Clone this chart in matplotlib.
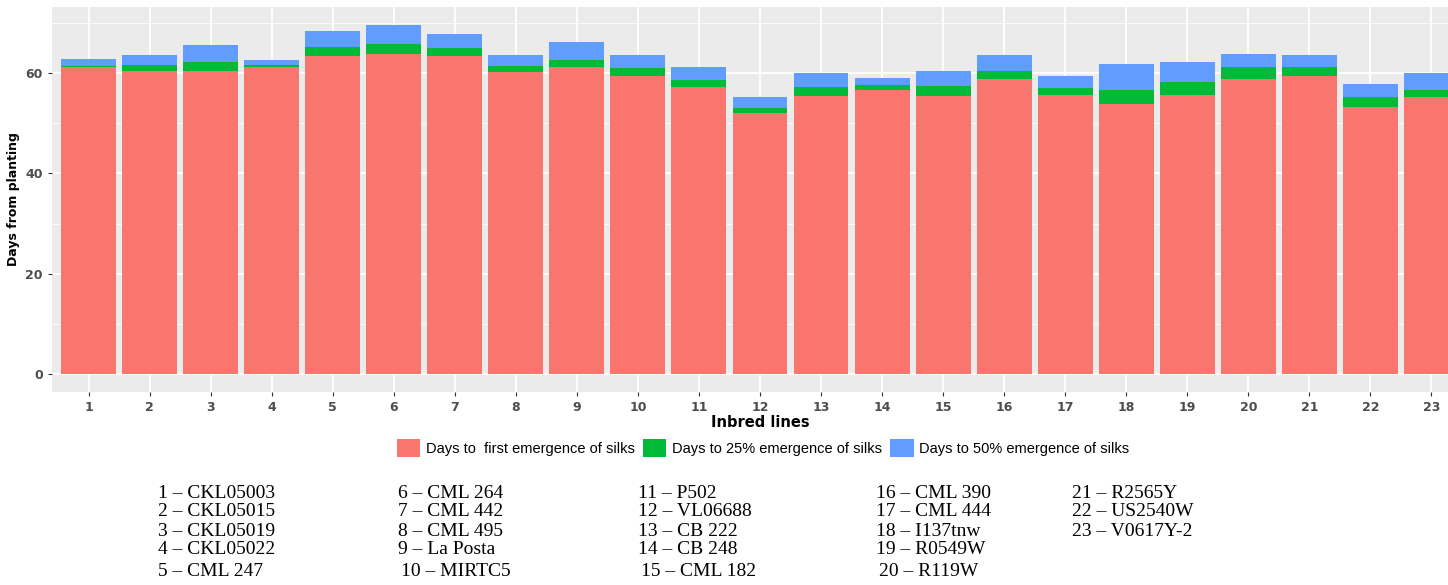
import matplotlib
matplotlib.use('Agg')
import matplotlib.pyplot as plt
from matplotlib.patches import Patch
import numpy as np

# Inbred line numbers and the three stacked segments (days)
lines = list(range(1, 24))
first_silk = [61.2, 60.5, 60.4, 61.2, 63.5, 63.9, 63.5, 60.3, 61.3, 59.4, 57.2, 52.0,
              55.5, 56.6, 55.5, 58.8, 55.7, 53.8, 55.7, 58.9, 59.4, 53.3, 55.3]
silk_25 = [0.3, 1.1, 1.9, 0.4, 1.8, 2.0, 1.6, 1.1, 1.4, 1.6, 1.4, 1.0,
           1.8, 1.0, 2.0, 1.6, 1.4, 2.9, 2.6, 2.3, 1.8, 2.0, 1.4]
silk_50 = [1.3, 2.1, 3.4, 1.0, 3.1, 3.8, 2.8, 2.2, 3.6, 2.6, 2.7, 2.2,
           2.7, 1.4, 2.9, 3.2, 2.3, 5.1, 4.0, 2.7, 2.5, 2.6, 3.3]

legend_labels = ['Days to  first emergence of silks', 'Days to 25% emergence of silks',
                 'Days to 50% emergence of silks']
colors = ['#F8766D', '#00BA38', '#619CFF']

line_names = ['CKL05003', 'CKL05015', 'CKL05019', 'CKL05022', 'CML 247',
              'CML 264', 'CML 442', 'CML 495', 'La Posta', 'MIRTC5',
              'P502', 'VL06688', 'CB 222', 'CB 248', 'CML 182',
              'CML 390', 'CML 444', 'I137tnw', 'R0549W', 'R119W',
              'R2565Y', 'US2540W', 'V0617Y-2']

W, H = 1448, 585
fig = plt.figure(figsize=(W / 100, H / 100), dpi=100)
ax = fig.add_axes([52 / W, 1 - 391.5 / H, 1416 / W, 384.5 / H])

x = np.array(lines)
b1 = np.array(first_silk)
b2 = b1 + np.array(silk_25)
ax.bar(x, first_silk, width=0.9, color=colors[0], zorder=3)
ax.bar(x, silk_25, width=0.9, bottom=b1, color=colors[1], zorder=3)
ax.bar(x, silk_50, width=0.9, bottom=b2, color=colors[2], zorder=3)

ax.set_facecolor('#EBEBEB')
for s in ax.spines.values():
    s.set_visible(False)
ax.set_xlim(0.4, 23.6)
ax.set_ylim(-3.49, 73.2)
ax.set_yticks([0, 20, 40, 60])
ax.set_yticks([10, 30, 50, 70], minor=True)
ax.set_xticks(lines)
ax.grid(which='major', color='white', linewidth=1.3, zorder=0)
ax.grid(which='minor', axis='y', color='white', linewidth=0.6, zorder=0)
ax.tick_params(axis='both', which='major', length=3, color='#333333',
               labelsize=9, labelcolor='#4D4D4D')
ax.tick_params(axis='y', which='minor', length=0)
for t in ax.get_xticklabels() + ax.get_yticklabels():
    t.set_fontweight('bold')

ax.set_xlabel('Inbred lines', fontsize=10.5, fontweight='bold', labelpad=1)
ax.set_ylabel('Days from planting', fontsize=9, fontweight='bold', labelpad=4)

handles = [Patch(facecolor=c, edgecolor='none') for c in colors]
fig.legend(handles, legend_labels, loc='center', bbox_to_anchor=(763 / W, 1 - 448 / H),
           ncol=3, frameon=False, handlelength=1.6, handleheight=1.6,
           handletextpad=0.35, columnspacing=0.6,
           prop={'family': 'Liberation Sans', 'size': 10.5})

# key of inbred line names below the chart
col_x = [158, 398, 638, 876, 1072]
row_y = [493, 512, 531, 550, 572]
for i, name in enumerate(line_names):
    col, row = divmod(i, 5)
    xx = col_x[col] + (3 if row == 4 and col > 0 else 0)
    fig.text(xx / W, 1 - row_y[row] / H, f'{i + 1} \u2013 {name}', fontsize=14,
             family='Liberation Serif', va='center', ha='left')

fig.savefig('out.png', dpi=100)
